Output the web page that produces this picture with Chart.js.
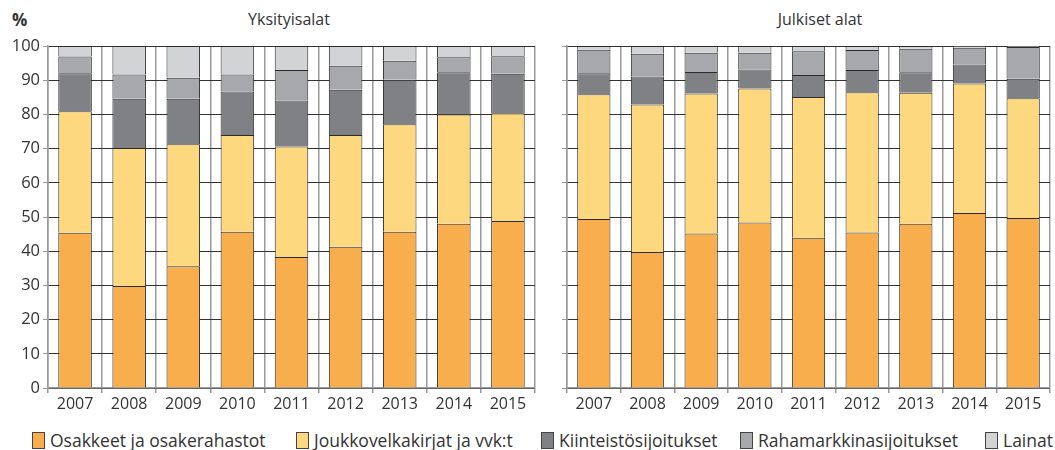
<!DOCTYPE html>
<html>
<head>
<meta charset="utf-8">
<script src="https://cdn.jsdelivr.net/npm/chart.js@4.4.1/dist/chart.umd.min.js"></script>
<style>
    body { margin: 0; width: 1055px; height: 450px; background: #fff; font-family: "Open Sans", sans-serif; color: #333; overflow: hidden; position: relative; }
    .panel { position: absolute; top: 0; height: 420px; }
    .title { position: absolute; top: 8px; font-size: 16px; transform: translateX(-50%); white-space: nowrap; }
    .pct { position: absolute; left: 12px; top: 8px; font-size: 17px; font-weight: bold; }
    .legend { position: absolute; top: 428px; height: 22px; font-size: 17.5px; white-space: nowrap; }
    .legend span.box { display: inline-block; width: 11px; height: 15px; border: 1px solid #444; vertical-align: -2px; margin-right: 5px; }
</style>
</head>
<body>
<div class="pct">%</div>
<div class="title" style="left:289px">Yksityisalat</div>
<div class="title" style="left:820px">Julkiset alat</div>
<div class="panel" style="left:0; width:540px"><canvas id="private-chart"></canvas></div>
<div class="panel" style="left:540px; width:515px"><canvas id="public-chart"></canvas></div>
<div id="legend"></div>
<script>
var years = ['2007', '2008', '2009', '2010', '2011', '2012', '2013', '2014', '2015'];
var seriesNames = ['Osakkeet  ja osakerahastot', 'Joukkovelkakirjat ja vvk:t', 'Kiinteistösijoitukset', 'Rahamarkkinasijoitukset', 'Lainat'];
var seriesColors = ['#F8AE4C', '#FDD87F', '#808185', '#A7A8AB', '#D2D3D5'];
var yTicks = [0, 10, 20, 30, 40, 50, 60, 70, 80, 90, 100];

// Yksityisalat
var privOsakkeet = [45.4, 29.8, 35.6, 45.7, 38.3, 41.3, 45.7, 48.0, 48.8];
var privJouk = [35.5, 40.4, 35.7, 28.3, 32.3, 32.7, 31.4, 32.0, 31.5];
var privKiint = [11.1, 14.4, 13.3, 12.7, 13.5, 13.2, 13.0, 12.3, 11.6];
var privRaha = [4.9, 7.1, 6.1, 5.0, 8.9, 7.0, 5.6, 4.4, 5.1];
var privLainat = [3.1, 8.3, 9.3, 8.3, 7.0, 5.8, 4.3, 3.3, 3.0];

// Julkiset alat
var publOsakkeet = [49.4, 39.8, 45.2, 48.4, 43.9, 45.5, 48.0, 51.2, 49.7];
var publJouk = [36.5, 43.1, 40.9, 39.2, 41.2, 41.0, 38.3, 37.8, 35.0];
var publKiint = [6.1, 8.2, 6.3, 5.5, 6.4, 6.5, 6.0, 5.6, 5.7];
var publRaha = [6.9, 6.6, 5.6, 4.9, 7.0, 5.8, 6.9, 4.9, 9.3];
var publLainat = [1.1, 2.3, 2.0, 2.0, 1.5, 1.2, 0.8, 0.5, 0.3];

Chart.defaults.font.family = '"Open Sans", sans-serif';
Chart.defaults.color = '#333';

function makeDatasets(series) {
    return series.map(function (values, i) {
        return {
            label: seriesNames[i],
            data: values,
            backgroundColor: seriesColors[i],
            borderColor: '#2a2a2a',
            borderWidth: 1,
            barPercentage: 0.62,
            categoryPercentage: 1.0
        };
    });
}

function makeChart(id, series, showLabels, axisWidth) {
    var ctx = document.getElementById(id).getContext('2d');
    return new Chart(ctx, {
        type: 'bar',
        data: {
            labels: years,
            datasets: makeDatasets(series)
        },
        options: {
            responsive: true,
            maintainAspectRatio: false,
            animation: false,
            layout: { padding: { top: 46, right: 5, left: 0, bottom: 0 } },
            plugins: {
                legend: { display: false },
                tooltip: { enabled: false }
            },
            scales: {
                x: {
                    stacked: true,
                    grid: { offset: true, color: '#9a9a9a', lineWidth: 1.5, tickLength: 5, tickColor: '#9a9a9a' },
                    border: { color: '#9a9a9a', width: 1.5 },
                    ticks: { font: { size: 16 }, padding: 2, maxRotation: 0 },
                    afterFit: function (scale) { scale.height = 32; }
                },
                y: {
                    stacked: true,
                    min: 0,
                    max: 100,
                    afterBuildTicks: function (scale) {
                        scale.ticks = yTicks.map(function (v) { return { value: v }; });
                    },
                    grid: { color: '#333', lineWidth: 1, tickLength: 5, tickColor: '#9a9a9a' },
                    border: { color: '#9a9a9a', width: 1.5 },
                    ticks: { display: showLabels, font: { size: 16.5 }, padding: 3 },
                    afterFit: function (scale) { scale.width = axisWidth; }
                }
            }
        }
    });
}

makeChart('private-chart', [privOsakkeet, privJouk, privKiint, privRaha, privLainat], true, 48);
makeChart('public-chart', [publOsakkeet, publJouk, publKiint, publRaha, publLainat], false, 27);

// legend
var legendX = [32, 296, 541, 740, 985];
var legend = document.getElementById('legend');
seriesNames.forEach(function (name, i) {
    var item = document.createElement('div');
    item.className = 'legend';
    item.style.left = legendX[i] + 'px';
    item.innerHTML = '<span class="box" style="background:' + seriesColors[i] + '"></span>' + name;
    legend.appendChild(item);
});
</script>
</body>
</html>
